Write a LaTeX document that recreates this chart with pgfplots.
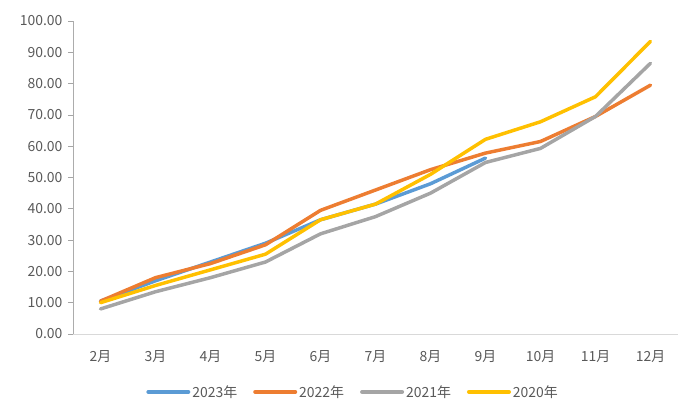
\documentclass[border=0pt]{standalone}
\usepackage{pgfplots}
\pgfplotsset{compat=1.18}
\usepackage{fontspec}
\setmainfont{Noto Sans CJK SC}
\definecolor{c23}{HTML}{5B9BD5}
\definecolor{c22}{HTML}{ED7D31}
\definecolor{c21}{HTML}{A5A5A5}
\definecolor{c20}{HTML}{FFC000}
\definecolor{txt}{HTML}{595959}
\begin{document}
\begin{tikzpicture}[x=1bp,y=1bp]
\begin{axis}[
  at={(0,0)}, anchor=south west,
  scale only axis, width=605bp, height=313bp,
  xmin=-0.5, xmax=10.5, ymin=0, ymax=100,
  xtick={0,...,10},
  xticklabels={2月,3月,4月,5月,6月,7月,8月,9月,10月,11月,12月},
  ytick={0,10,...,100},
  yticklabel style={/pgf/number format/fixed, /pgf/number format/fixed zerofill, /pgf/number format/precision=2, xshift=-2bp},
  /pgf/number format/assume math mode=true,
  tick label style={font=\fontsize{14}{16}\selectfont, text=txt},
  xtick style={draw=none},
  ytick style={draw=c21, line width=0.8pt},
  tick align=outside,
  major tick length=5bp,
  axis x line*=bottom, axis y line*=left,
  x axis line style={draw=gray!30, line width=1pt, -},
  y axis line style={draw=gray!65, line width=1pt, -},
  xticklabel style={yshift=-8bp},
  legend columns=4,
  legend style={at={(0.463,-0.185)}, anchor=center, draw=none, fill=none,
    font=\fontsize{14}{16}\selectfont, text=txt,
    /tikz/every even column/.append style={column sep=14bp}},
  legend image code/.code={\draw[#1, line width=4pt, line cap=round] (0bp,0bp) -- (40bp,0bp);},
  every axis plot/.append style={line width=3.5pt, line cap=round, line join=round},
]
\addplot[c23] coordinates {(0,10.5)(1,17)(2,23)(3,29)(4,36.5)(5,41.5)(6,48)(7,56.2)};
\addlegendentry{2023年}
\addplot[c22] coordinates {(0,10.5)(1,18)(2,22.5)(3,28.5)(4,39.5)(5,46)(6,52.5)(7,57.8)(8,61.5)(9,69.5)(10,79.5)};
\addlegendentry{2022年}
\addplot[c21] coordinates {(0,8)(1,13.5)(2,18)(3,23)(4,32)(5,37.5)(6,45)(7,54.8)(8,59.3)(9,69.5)(10,86.5)};
\addlegendentry{2021年}
\addplot[c20] coordinates {(0,10)(1,15.5)(2,20.5)(3,25.5)(4,36.5)(5,41.5)(6,51)(7,62.2)(8,67.8)(9,75.8)(10,93.5)};
\addlegendentry{2020年}
\end{axis}
\path (-73bp,-86bp) rectangle (627bp,334bp);
\end{tikzpicture}
\end{document}
